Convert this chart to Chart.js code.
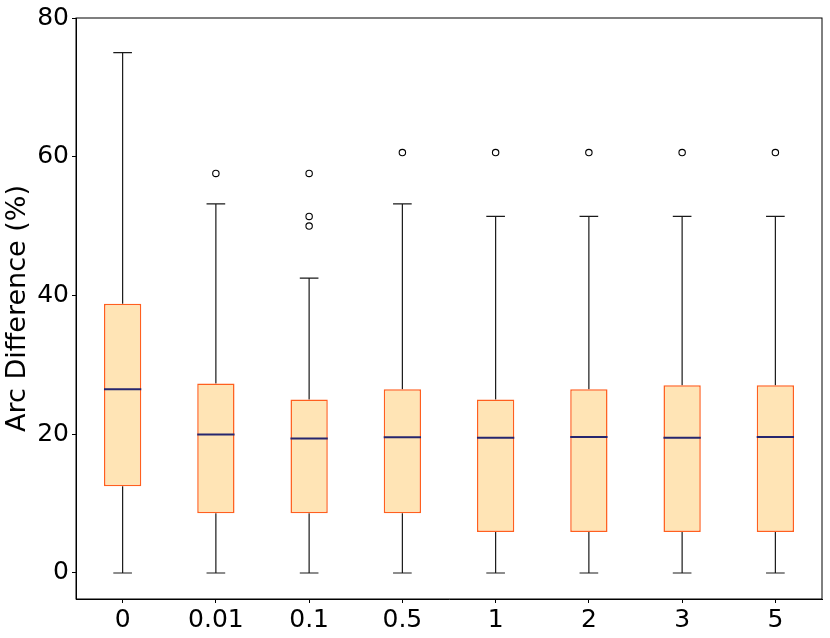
<!DOCTYPE html>
<html>
<head>
<meta charset="utf-8">
<script src="https://cdn.jsdelivr.net/npm/chart.js@4"></script>
<style>
    html, body { margin: 0; padding: 0; background: #fff; }
    #wrap { width: 830px; height: 638px; }
</style>
</head>
<body>
<div id="wrap"><canvas id="boxChart" width="830" height="638"></canvas></div>
<script>
// valeurs
const categories = ["0", "0.01", "0.1", "0.5", "1", "2", "3", "5"];
const whiskerLow = [0, 0, 0, 0, 0, 0, 0, 0];
const q1 = [12.5, 8.6, 8.6, 8.6, 5.9, 5.9, 5.9, 5.9];
const median = [26.5, 19.95, 19.4, 19.55, 19.5, 19.6, 19.5, 19.6];
const q3 = [38.8, 27.3, 25.0, 26.5, 25.0, 26.5, 27.05, 27.05];
const whiskerHigh = [75, 53.2, 42.5, 53.2, 51.4, 51.4, 51.4, 51.4];
const outliers = [[], [57.6], [57.6, 51.4, 50.0], [60.6], [60.6], [60.6], [60.6], [60.6]];
const yTicks = [0, 20, 40, 60, 80];

const outlierPoints = [];
outliers.forEach((list, i) => {
    list.forEach(v => outlierPoints.push({x: categories[i], y: v}));
});

// moustaches, médianes et cadre
const boxParts = {
    id: "boxParts",
    beforeDatasetsDraw: (chart) => {
        const {ctx, scales} = chart;
        const bars = chart.getDatasetMeta(0).data;
        ctx.save();
        ctx.strokeStyle = "#1a1a1a";
        ctx.lineWidth = 1.2;
        bars.forEach((bar, i) => {
            const half = bar.width / 4;
            const yLo = scales.y.getPixelForValue(whiskerLow[i]);
            const yQ1 = scales.y.getPixelForValue(q1[i]);
            const yQ3 = scales.y.getPixelForValue(q3[i]);
            const yHi = scales.y.getPixelForValue(whiskerHigh[i]);
            ctx.beginPath();
            ctx.moveTo(bar.x, yQ1);
            ctx.lineTo(bar.x, yLo);
            ctx.moveTo(bar.x - half, yLo);
            ctx.lineTo(bar.x + half, yLo);
            ctx.moveTo(bar.x, yQ3);
            ctx.lineTo(bar.x, yHi);
            ctx.moveTo(bar.x - half, yHi);
            ctx.lineTo(bar.x + half, yHi);
            ctx.stroke();
        });
        ctx.restore();
    },
    afterDatasetsDraw: (chart) => {
        const {ctx, scales, chartArea} = chart;
        const bars = chart.getDatasetMeta(0).data;
        ctx.save();
        ctx.strokeStyle = "#26266f";
        ctx.lineWidth = 2;
        bars.forEach((bar, i) => {
            const y = scales.y.getPixelForValue(median[i]);
            ctx.beginPath();
            ctx.moveTo(bar.x - bar.width / 2, y);
            ctx.lineTo(bar.x + bar.width / 2, y);
            ctx.stroke();
        });
        ctx.strokeStyle = "#000";
        ctx.lineWidth = 1;
        ctx.strokeRect(chartArea.left, chartArea.top, chartArea.right - chartArea.left, chartArea.bottom - chartArea.top);
        ctx.restore();
    },
};

Chart.defaults.font.family = "'DejaVu Sans', sans-serif";
Chart.defaults.font.size = 25;
Chart.defaults.color = "#000";

new Chart(document.getElementById("boxChart").getContext("2d"), {
    type: "bar",
    data: {
        labels: categories,
        datasets: [{
            data: categories.map((c, i) => [q1[i], q3[i]]),
            backgroundColor: "#ffe4b5",
            borderColor: "#ff5f1f",
            borderWidth: 1.5,
            borderSkipped: false,
            barPercentage: 0.4,
            categoryPercentage: 1,
        }, {
            type: "line",
            data: outlierPoints,
            showLine: false,
            pointRadius: 3.2,
            pointBackgroundColor: "rgba(0,0,0,0)",
            pointBorderColor: "#000",
            pointBorderWidth: 1.1,
        }]
    },
    plugins: [boxParts],
    options: {
        responsive: false,
        animation: false,
        devicePixelRatio: 1,
        layout: {
            padding: {top: 16, right: 8, left: 0, bottom: 0},
        },
        plugins: {
            legend: {display: false},
            tooltip: {enabled: false},
        },
        scales: {
            x: {
                type: "category",
                offset: true,
                grid: {
                    offset: false,
                    drawOnChartArea: false,
                    tickLength: 4,
                    tickColor: "#000",
                },
                border: {color: "#000"},
                ticks: {padding: 2, maxRotation: 0},
                afterFit: (scale) => { scale.height = 39; },
            },
            y: {
                min: -3.75,
                max: 80,
                grid: {
                    drawOnChartArea: false,
                    tickLength: 4,
                    tickColor: "#000",
                },
                border: {color: "#000"},
                ticks: {padding: 3},
                afterBuildTicks: (scale) => {
                    scale.ticks = yTicks.map(v => ({value: v}));
                },
                title: {
                    display: true,
                    text: "Arc Difference (%)",
                    font: {size: 27},
                    padding: {top: 2, bottom: 0},
                },
                afterFit: (scale) => { scale.width = 76; },
            },
        },
    },
});
</script>
</body>
</html>
